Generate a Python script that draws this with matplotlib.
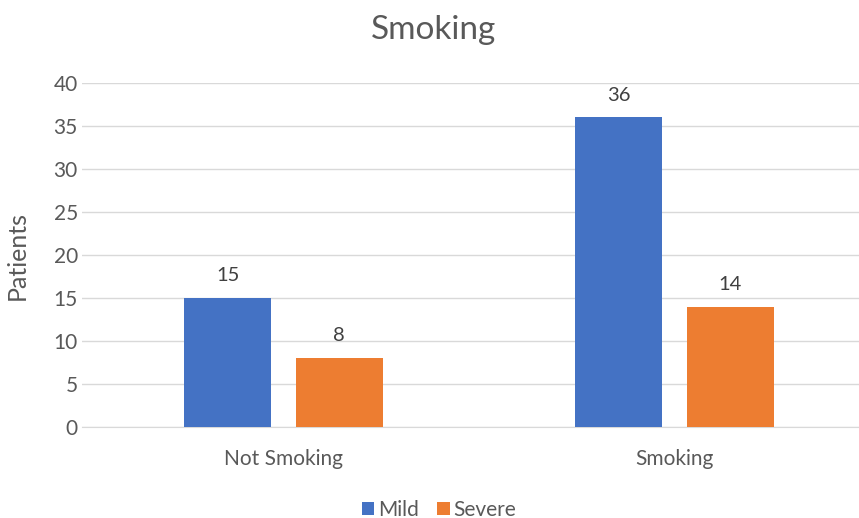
import numpy as np
from matplotlib import pyplot as plt

plt.rcParams['font.family'] = ['Lato', 'DejaVu Sans']

categories = ["Not Smoking", "Smoking"]
series = ["Mild", "Severe"]
mild = [15, 36]
severe = [8, 14]
yticks = [0, 5, 10, 15, 20, 25, 30, 35, 40]

colors = ["#4472C4", "#ED7D31"]
text_color = "#595959"

fig = plt.figure(figsize=(8.59, 5.18), dpi=100)
ax = fig.add_axes([82 / 859, 91 / 518, 777 / 859, 344 / 518])

x = np.arange(len(categories))
width = 0.222
offset = 0.1425

for vals, off, col, name in zip([mild, severe], [-offset, offset], colors, series):
    bars = ax.bar(x + off, vals, width, color=col, label=name, zorder=3)
    for b, v in zip(bars, vals):
        ax.text(b.get_x() + b.get_width() / 2, v + 1.6, str(v),
                ha='center', va='bottom', fontsize=14.5, color="#404040")

ax.set_xlim(-0.515, 1.472)
ax.set_ylim(0, 40)
ax.set_yticks(yticks)
ax.set_xticks(x)
ax.set_xticklabels(categories)
ax.yaxis.grid(True, color="#D9D9D9", linewidth=1, zorder=0)
ax.tick_params(axis='both', length=0, labelsize=15, labelcolor=text_color)
ax.tick_params(axis='x', pad=16)
ax.tick_params(axis='y', pad=3)
for s in ax.spines.values():
    s.set_visible(False)
ax.spines['bottom'].set_visible(True)
ax.spines['bottom'].set_color("#D9D9D9")

ax.set_ylabel("Patients", fontsize=18, color=text_color)
ax.yaxis.set_label_coords(-0.068, 0.5)
fig.text(434 / 859, 1 - 30 / 518, "Smoking", ha='center', va='center',
         fontsize=24, color=text_color)

ax.legend(loc='center', bbox_to_anchor=(0.4595, -0.24), ncol=2, frameon=False,
          fontsize=15, handlelength=0.58, handleheight=0.58, handletextpad=0.2,
          columnspacing=0.9, labelcolor=text_color)

fig.savefig("out.png", dpi=100)
